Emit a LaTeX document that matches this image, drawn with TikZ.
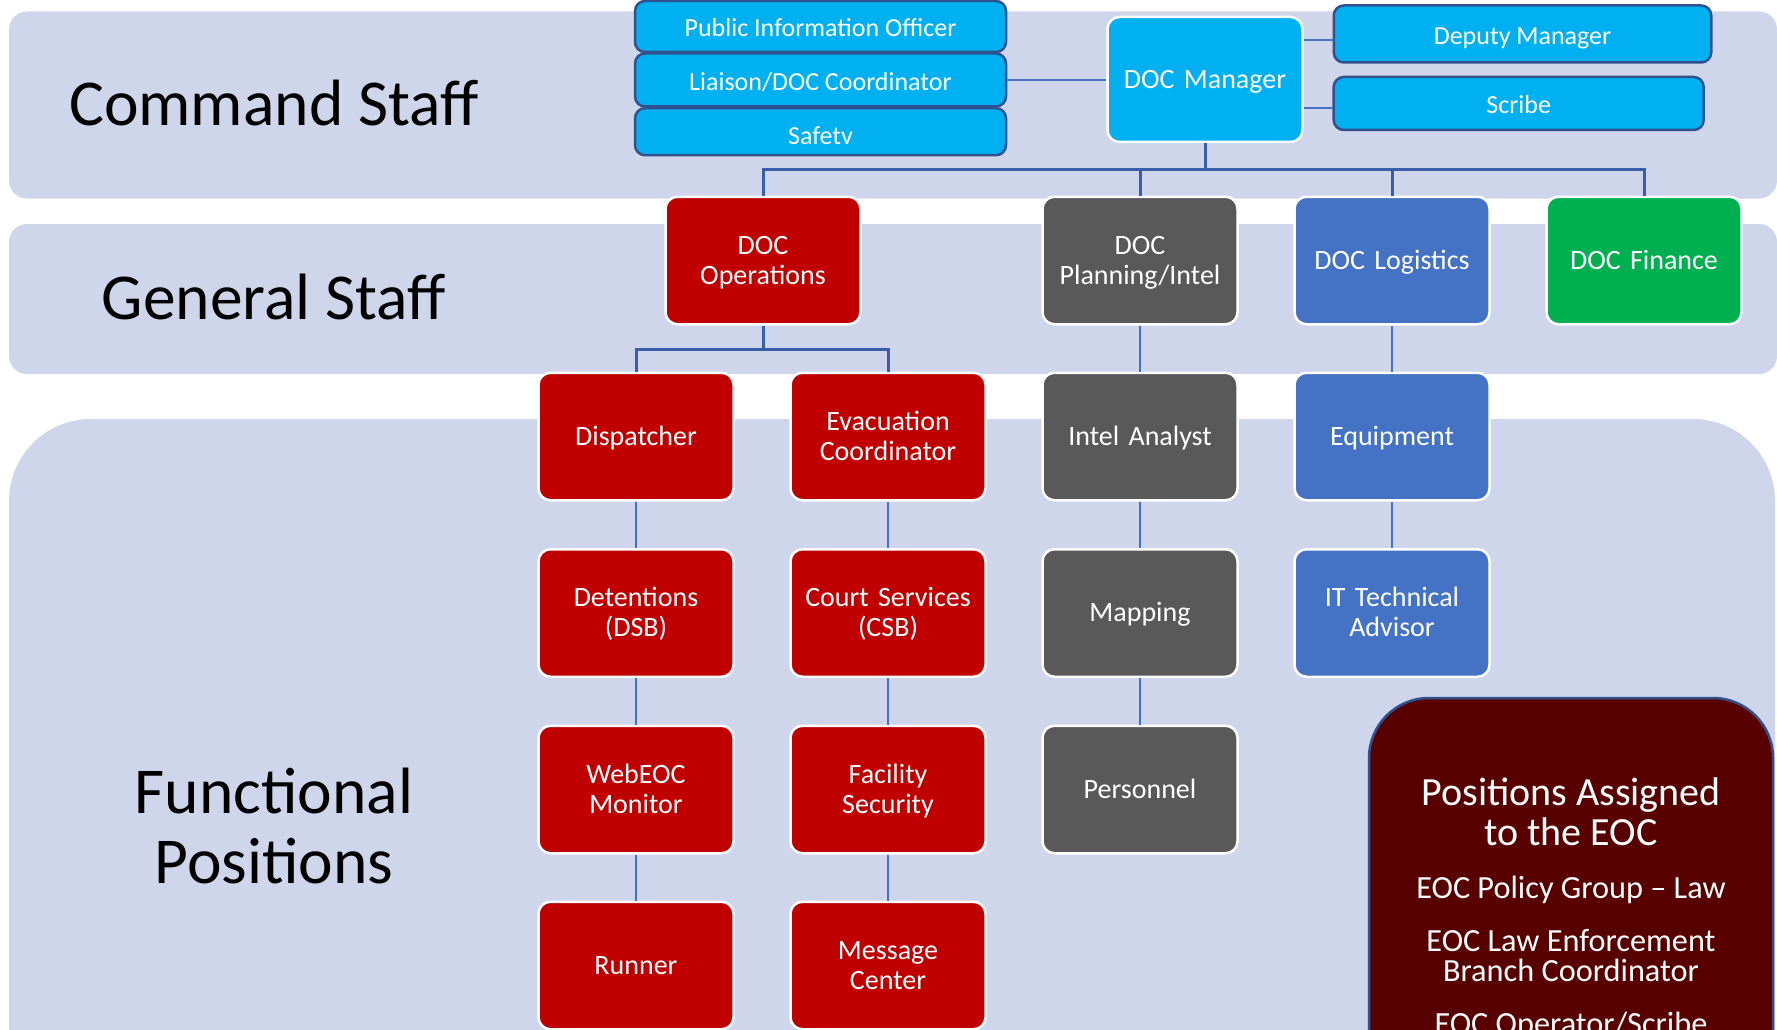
\documentclass[tikz,border=0pt]{standalone}
\usepackage{fontspec}
\setmainfont{Carlito}
\newfontfamily\boxfont{Carlito}[WordSpace=0.7]
\definecolor{bandc}{HTML}{CFD5EA}
\definecolor{cyanc}{HTML}{00B0F0}
\definecolor{navyc}{HTML}{2F528F}
\definecolor{redc}{HTML}{C00000}
\definecolor{grayc}{HTML}{595959}
\definecolor{bluec}{HTML}{4472C4}
\definecolor{greenc}{HTML}{00B050}
\definecolor{brownc}{HTML}{580000}
\definecolor{connc}{HTML}{4472C4}
\definecolor{busc}{HTML}{3A5DA8}
\newcommand\oneline[1]{\rule{0pt}{20pt}\smash{#1}\rule[-2.3pt]{0pt}{2.3pt}}
\newcommand\twolines[2]{\rule{0pt}{20pt}\smash{#1}\\\smash{#2}\rule[-2.3pt]{0pt}{2.3pt}}
\begin{document}
\begin{tikzpicture}[x=1pt,y=-1pt,
  band/.style={fill=bandc,draw=none},
  box/.style={rounded corners=12pt,draw=white,line width=2.5pt,minimum width=195pt,minimum height=127.5pt,text width=188pt,align=center,inner sep=0pt,text=white,font=\boxfont\fontsize{28}{30}\selectfont},
  redbox/.style={box,fill=redc},
  graybox/.style={box,fill=grayc},
  bluebox/.style={box,fill=bluec},
  greenbox/.style={box,fill=greenc},
  cmdbox/.style={rounded corners=10pt,draw=navyc,line width=2.5pt,fill=cyanc,inner sep=0pt,text=white,text height=21.5pt,text depth=1.1pt,font=\fontsize{26}{28}\selectfont},
  biglabel/.style={anchor=base,font=\fontsize{65.5}{69}\selectfont,text=black},
  eoctitle/.style={anchor=base,text=white,font=\fontsize{40}{41}\selectfont},
  eocitem/.style={anchor=base,text=white,font=\fontsize{32.3}{31}\selectfont},
  conn/.style={draw=connc,line width=1.8pt},
  busline/.style={draw=busc,line width=3pt}]
\clip (0,0) rectangle (1777,1030);
% bands
\fill[band,rounded corners=18pt] (9,11.5) rectangle (1777,198.5);
\fill[band,rounded corners=18pt] (9,224) rectangle (1777,374);
\fill[band] (9,1060) [rounded corners=82pt] -- (9,419) -- (1775,419) [sharp corners] -- (1775,1060) -- cycle;
% left labels
\node[biglabel] (lcmd) at (274,125) {Command Staff};
\node[biglabel] (lgen) at (274,319.5) {General Staff};
\node[biglabel] (lfun1) at (274,813.5) {Functional};
\node[biglabel] (lfun2) at (274,883) {Positions};
% command staff
\node[cmdbox,minimum width=371pt,minimum height=51pt] (pio) at (820.5,26.5) {Public Information Officer};
\node[cmdbox,minimum width=371pt,minimum height=53pt] (liaison) at (820.5,80) {Liaison/DOC Coordinator};
\node[cmdbox,minimum width=371pt,minimum height=47pt] (safety) at (820.5,131.7) {\raisebox{-3pt}{Safetv}};
\node[box,fill=cyanc,minimum height=125pt] (mgr) at (1205,79.5) {\oneline{DOC Manager}};
\node[cmdbox,minimum width=377.5pt,minimum height=57pt] (deputy) at (1522.5,34) {Deputy Manager};
\node[cmdbox,minimum width=370pt,minimum height=53pt] (scribe) at (1518.7,103.5) {Scribe};
% general staff
\node[redbox] (ops) at (763,260.5) {\twolines{DOC}{Operations}};
\node[graybox] (plan) at (1140,260.5) {\twolines{DOC}{Planning/Intel}};
\node[bluebox] (logi) at (1392,260.5) {\oneline{DOC Logistics}};
\node[greenbox] (fin) at (1644,260.5) {\oneline{DOC Finance}};
% functional
\node[redbox] (disp) at (636,436.5) {\oneline{Dispatcher}};
\node[redbox] (det) at (636,613) {\twolines{Detentions}{(DSB)}};
\node[redbox] (web) at (636,789.5) {\twolines{WebEOC}{Monitor}};
\node[redbox] (run) at (636,965.5) {\oneline{Runner}};
\node[redbox] (evac) at (888,436.5) {\twolines{Evacuation}{Coordinator}};
\node[redbox] (court) at (888,613) {\twolines{Court Services}{(CSB)}};
\node[redbox] (fac) at (888,789.5) {\twolines{Facility}{Security}};
\node[redbox] (msg) at (888,965.5) {\twolines{Message}{Center}};
\node[graybox] (intel) at (1140,436.5) {\oneline{Intel Analyst}};
\node[graybox] (map) at (1140,613) {\oneline{Mapping}};
\node[graybox] (pers) at (1140,789.5) {\oneline{Personnel}};
\node[bluebox] (equip) at (1392,436.5) {\oneline{Equipment}};
\node[bluebox] (it) at (1392,613) {\twolines{IT Technical}{Advisor}};
% EOC box
\draw[fill=brownc,draw=navyc,line width=2.5pt] (1369,1060) [rounded corners=60pt] -- (1369,698) -- (1773,698) [sharp corners] -- (1773,1060);
\node[eoctitle] (t1) at (1571,805) {Positions Assigned};
\node[eoctitle] (t2) at (1571,845.5) {to the EOC};
\node[eocitem] (i1) at (1571,898) {EOC Policy Group – Law};
\node[eocitem] (i2) at (1571,951) {EOC Law Enforcement};
\node[eocitem] (i3) at (1571,981) {Branch Coordinator};
\node[eocitem] (i4) at (1571,1034) {EOC Operator/Scribe};
% connectors
\coordinate (bus) at (1205,169);
\coordinate (obus) at (763,349);
\draw[conn] (liaison.east) -- (liaison.east -| mgr.west);
\draw[conn] (mgr.east |- 0,40) -- (deputy.west |- 0,40);
\draw[conn] (mgr.east |- 0,108) -- (scribe.west |- 0,108);
\draw[busline] (mgr.south) -- (bus);
\draw[busline] (ops.north) |- (bus) -| (fin.north);
\draw[busline] (plan.north) -- (plan.north |- bus);
\draw[busline] (logi.north) -- (logi.north |- bus);
\draw[busline] (ops.south) -- (obus);
\draw[busline] (disp.north) |- (obus) -| (evac.north);
\draw[conn] (disp) -- (det);
\draw[conn] (det) -- (web);
\draw[conn] (web) -- (run);
\draw[conn] (evac) -- (court);
\draw[conn] (court) -- (fac);
\draw[conn] (fac) -- (msg);
\draw[conn] (plan) -- (intel);
\draw[conn] (intel) -- (map);
\draw[conn] (map) -- (pers);
\draw[conn] (logi) -- (equip);
\draw[conn] (equip) -- (it);
\end{tikzpicture}
\end{document}
